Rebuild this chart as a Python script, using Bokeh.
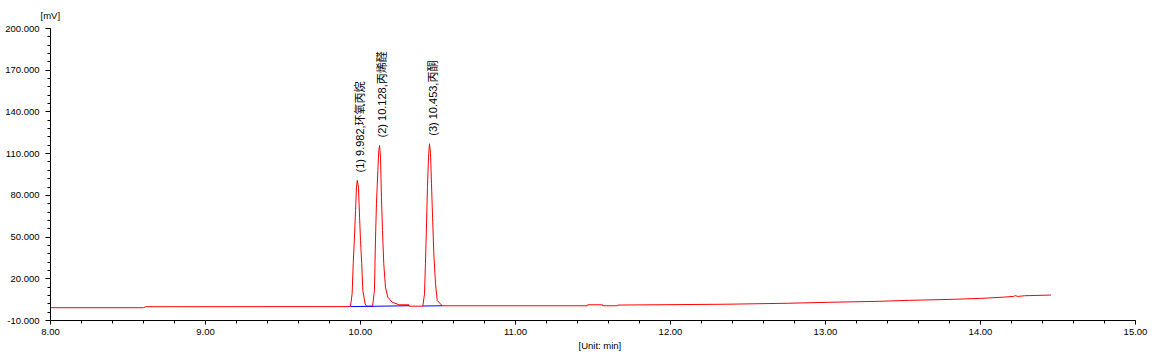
from math import pi
from bokeh.plotting import figure
from bokeh.models import (ColumnDataSource, FixedTicker, SingleIntervalTicker,
                          NumeralTickFormatter, Range1d, Title)
from bokeh.core.properties import value
from bokeh.embed import file_html
from bokeh.resources import INLINE

# ---- data ----
time_min = [8.000, 8.600, 8.615, 9.935,
            9.946, 9.953, 9.961, 9.968, 9.974, 9.979, 9.987, 9.994, 10.000,
            10.008, 10.015, 10.030, 10.039, 10.078,
            10.090, 10.097, 10.103, 10.112, 10.118, 10.123, 10.129, 10.135,
            10.142, 10.150, 10.161, 10.176, 10.204, 10.237, 10.250, 10.312,
            10.313, 10.402,
            10.413, 10.419, 10.426, 10.432, 10.439, 10.445, 10.452, 10.458,
            10.465, 10.473, 10.484, 10.495, 10.527,
            11.465, 11.466, 11.561, 11.562, 11.658, 11.660,
            12.360, 12.760, 13.020, 13.350, 13.540, 13.810, 14.000, 14.150,
            14.212, 14.225, 14.240, 14.284, 14.455]
signal_mv = [-0.8, -0.8, -0.1, 0.0,
             9.2, 30.8, 50.0, 69.1, 85.9, 90.7, 85.9, 64.3, 47.6,
             30.8, 11.6, 2.0, 0.3, 0.3,
             11.6, 50.0, 73.9, 97.9, 112.3, 115.9, 107.5, 78.7,
             54.8, 30.8, 14.0, 6.8, 3.2, 1.8, 1.3, 1.3,
             0.3, 0.3,
             9.2, 30.8, 59.5, 85.9, 107.5, 117.1, 109.9, 88.3,
             64.3, 37.9, 16.4, 4.4, 0.6,
             0.6, 1.3, 1.3, 0.6, 0.6, 1.1,
             1.7, 2.4, 3.1, 3.8, 4.5, 5.2, 5.9, 6.8,
             7.3, 7.9, 7.3, 7.8, 8.3]

# integration baselines (blue)
base_x = [[9.935, 10.312], [10.402, 10.527]]
base_y = [[0.0, 0.6], [0.4, 0.6]]

peak_nums = [1, 2, 3]
peak_times = [9.982, 10.128, 10.453]
peak_heights = [90.7, 115.9, 117.1]
peak_names = ["环氧丙烷", "丙烯醛", "丙酮"]

y_ticks = [-10, 20, 50, 80, 110, 140, 170, 200]
y_minor = [-10 + 6 * i for i in range(36)]
y_unit = "[mV]"
x_unit = "[Unit: min]"

labels = [f"({n}) {t:.3f},{nm}" for n, t, nm in zip(peak_nums, peak_times, peak_names)]

tick_font = "Liberation Sans"

p = figure(width=1156, height=355, output_backend="svg", toolbar_location=None,
           x_range=Range1d(8, 15), y_range=Range1d(-10, 200),
           min_border_left=50, min_border_right=21, min_border_top=0,
           min_border_bottom=35, title=y_unit, title_location="above")
p.outline_line_color = None
p.xgrid.visible = False
p.ygrid.visible = False
p.background_fill_color = "white"
p.border_fill_color = "white"

p.title.align = "left"
p.title.offset = -10
p.title.standoff = 15
p.title.text_font = tick_font
p.title.text_font_size = "9.5px"
p.title.text_font_style = "normal"
p.title.text_color = "#000000"

p.line(time_min, signal_mv, line_color="#ff0000", line_width=1)
p.multi_line(base_x, base_y, line_color="#0000ff", line_width=1)

src = ColumnDataSource(dict(x=peak_times, y=peak_heights, t=labels))
p.text(x="x", y="y", text="t", source=src, angle=pi / 2,
       x_offset=2, y_offset=-8, text_align="left", text_baseline="middle",
       text_font=value("Liberation Sans, Noto Sans CJK SC"),
       text_font_size="11px", text_color="#000000")

p.xaxis.ticker = SingleIntervalTicker(interval=1, num_minor_ticks=5)
p.xaxis.formatter = NumeralTickFormatter(format="0.00")
p.yaxis.ticker = FixedTicker(ticks=y_ticks, minor_ticks=y_minor)
p.yaxis.formatter = NumeralTickFormatter(format="0.000")

for ax in (p.xaxis[0], p.yaxis[0]):
    ax.axis_line_color = "black"
    ax.major_tick_line_color = "black"
    ax.minor_tick_line_color = "black"
    ax.major_tick_in = 0
    ax.minor_tick_in = 0
    ax.major_label_text_font = tick_font
    ax.major_label_text_font_size = "9.5px"
    ax.major_label_text_color = "#000000"

p.yaxis.major_tick_out = 5
p.yaxis.minor_tick_out = 3
p.yaxis.major_label_standoff = 6
p.xaxis.major_tick_out = 4
p.xaxis.minor_tick_out = 3
p.xaxis.major_label_standoff = 4

xt = Title(text=x_unit, align="left", offset=528, standoff=0,
           text_font=tick_font, text_font_size="9.5px",
           text_font_style="normal", text_color="#000000")
p.add_layout(xt, "below")

open("out.html", "w").write(file_html(p, INLINE))
